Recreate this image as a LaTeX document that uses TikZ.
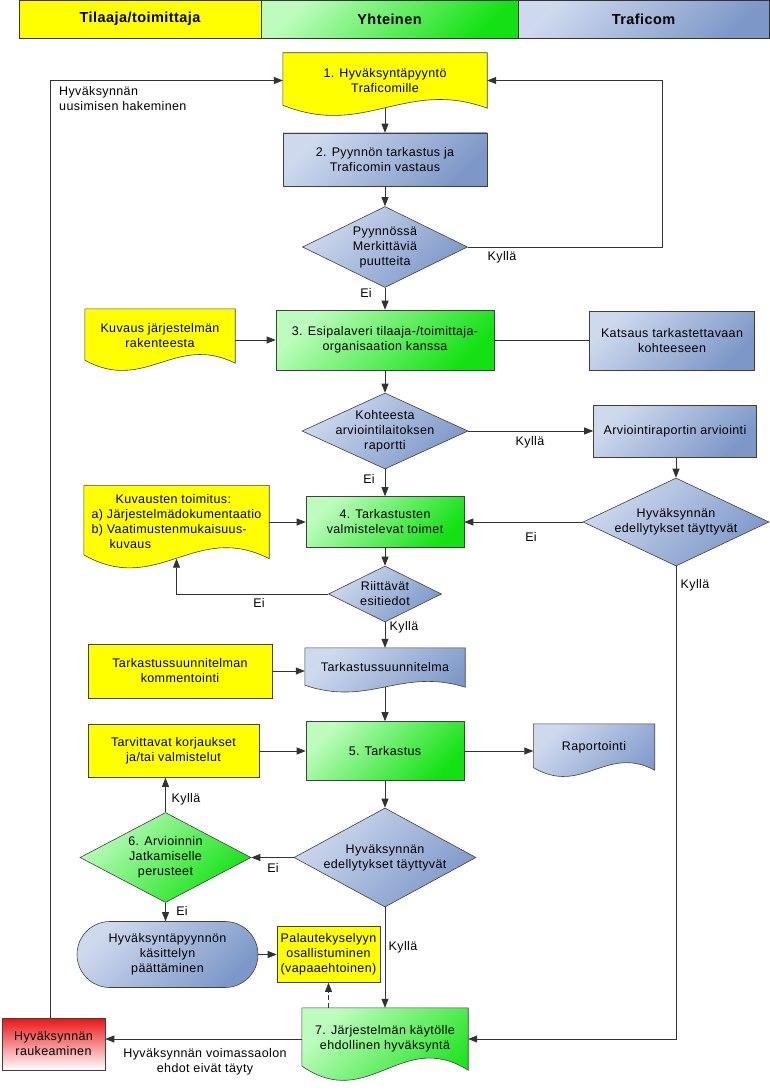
\documentclass[tikz,border=0pt]{standalone}
\usepackage{fontspec}
\setmainfont{Liberation Sans}[LetterSpace=3]
\usepackage{tikz}
\usetikzlibrary{calc, positioning, arrows.meta, shapes.geometric, backgrounds}
\usepackage{xcolor}
\definecolor{yelfill}{RGB}{255, 255, 0}
\definecolor{grnL}{RGB}{190, 252, 190}
\definecolor{grnD}{RGB}{20, 225, 20}
\definecolor{bluL}{RGB}{206, 217, 238}
\definecolor{bluD}{RGB}{125, 152, 200}
\definecolor{redD}{RGB}{235, 20, 20}
\definecolor{edgegray}{RGB}{50, 50, 50}
\newcommand{\flowfont}{\fontsize{12.5}{15}\selectfont}
\newcommand{\docpath}[3]{%
  \path[#1] (#2.north west) -- (#2.north east) -- (#2.south east)
    .. controls ($(#2.south east)!0.4!(#2.south west)+(0,-#3)$)
           and ($(#2.south east)!0.6!(#2.south west)+(0,#3)$)
    .. ($(#2.south west)+(0,-0.1*#3)$) -- cycle;}
\tikzset{
  box/.style={rectangle, draw=black!75, line width=0.6pt, align=center, inner sep=2pt, font=\flowfont},
  doc/.style={rectangle, align=center, inner sep=2pt, font=\flowfont},
  decision/.style={diamond, draw=black!75, line width=0.6pt, inner sep=0pt},
  hdr/.style={box, draw=black!80, line width=0.8pt, minimum height=38pt, font=\fontsize{14.5}{16}\selectfont\bfseries},
  yelf/.style={fill=yelfill},
  grnf/.style={top color=grnL, bottom color=grnD, shading angle=45},
  bluf/.style={top color=bluL, bottom color=bluD, shading angle=45},
  docy/.style={draw=black!75, line width=0.6pt, fill=yelfill},
  docb/.style={draw=black!75, line width=0.6pt, bluf},
  docg/.style={draw=black!75, line width=0.6pt, grnf},
  arr/.style={draw=edgegray, line width=0.7pt, -{Triangle[length=9pt, width=7pt]}},
  plain/.style={draw=edgegray, line width=0.7pt},
  lbl/.style={font=\flowfont, inner sep=1pt},
}

\begin{document}
\begin{tikzpicture}[x=1pt, y=-1pt]
  \useasboundingbox (0,0) rectangle (770,1091);
  % lanes
  \node[hdr, yelf, minimum width=242pt] (laneA) at (140,19) {Tilaaja/toimittaja};
  \node[hdr, grnf, minimum width=257pt] (laneB) at (389.5,19) {Yhteinen};
  \node[hdr, bluf, minimum width=251pt] (laneC) at (643.5,19) {Traficom};

  % request
  \node[doc, minimum width=204pt, minimum height=55pt] (req) at (385,80.5) {1. Hyväksyntäpyyntö\\Traficomille};
  \node[box, bluf, minimum width=204pt, minimum height=53pt] (check) at (385,159.5) {2. Pyynnön tarkastus ja\\Traficomin vastaus};
  \node[decision, bluf, minimum width=165pt, minimum height=81pt,
        label={[lbl, align=center]center:{Pyynnössä\\Merkittäviä\\puutteita}}] (gaps) at (385,247) {};

  % pre-meeting
  \node[box, grnf, minimum width=218pt, minimum height=60pt] (meet) at (385,340) {3. Esipalaveri tilaaja-/toimittaja-\\organisaation kanssa};
  \node[doc, minimum width=150pt, minimum height=54pt] (struct) at (160,336) {Kuvaus järjestelmän\\rakenteesta};
  \node[box, bluf, minimum width=165pt, minimum height=59pt] (review) at (672,340.5) {Katsaus tarkastettavaan\\kohteeseen};
  \node[decision, bluf, minimum width=166pt, minimum height=76pt,
        label={[lbl, align=center]center:{Kohteesta\\arviointilaitoksen\\raportti}}] (report) at (385,431) {};
  \node[box, bluf, minimum width=163pt, minimum height=52pt] (assess) at (675,431) {Arviointiraportin arviointi};

  % preparation
  \node[box, grnf, minimum width=158pt, minimum height=51pt] (prep) at (385,522) {4. Tarkastusten\\valmistelevat toimet};
  \node[doc, minimum width=185pt, minimum height=73pt, align=left] (deliv) at (176.5,522)
    {\hspace*{24pt}Kuvausten toimitus:\\a) Järjestelmädokumentaatio\\b) Vaatimustenmukaisuus-\\\hspace*{18pt}kuvaus};
  \node[decision, bluf, minimum width=186pt, minimum height=88pt,
        label={[lbl, align=center]center:{Hyväksynnän\\edellytykset täyttyvät}}] (cond1) at (676,522) {};
  \node[decision, bluf, minimum width=113pt, minimum height=56pt,
        label={[lbl, align=center]center:{Riittävät\\esitiedot}}] (enough) at (385,594) {};

  % inspection
  \node[box, yelf, minimum width=184pt, minimum height=54pt] (comment) at (180,671) {Tarkastussuunnitelman\\kommentointi};
  \node[doc, minimum width=160pt, minimum height=39pt] (plan) at (385,667.5) {Tarkastussuunnitelma};
  \node[box, grnf, minimum width=158pt, minimum height=59pt] (insp) at (385,751) {5. Tarkastus};
  \node[box, yelf, minimum width=171pt, minimum height=53pt] (fix) at (173.5,751) {Tarvittavat korjaukset\\ja/tai valmistelut};
  \node[doc, minimum width=121pt, minimum height=46pt] (rep) at (594,747) {Raportointi};
  \node[decision, bluf, minimum width=182pt, minimum height=99pt,
        label={[lbl, align=center]center:{Hyväksynnän\\edellytykset täyttyvät}}] (cond2) at (385,857.5) {};
  \node[decision, grnf, minimum width=171pt, minimum height=90pt,
        label={[lbl, align=center]center:{6. Arvioinnin\\Jatkamiselle\\perusteet}}] (cont) at (165.5,857.5) {};

  % closing
  \node[box, bluf, rounded corners=33pt, minimum width=181pt, minimum height=66pt] (close) at (167.5,954.5) {Hyväksyntäpyynnön\\käsittelyn\\päättäminen};
  \node[box, yelf, inner sep=1pt, minimum width=103pt, minimum height=56pt] (fb) at (328.5,954.5) {Palautekyselyyn\\osallistuminen\\(vapaaehtoinen)};
  \node[doc, minimum width=166pt, minimum height=62pt] (final) at (385,1039) {7. Järjestelmän käytölle\\ehdollinen hyväksyntä};
  \node[box, top color=redD, bottom color=white, minimum width=103pt, minimum height=52pt] (lapse) at (53.5,1044) {Hyväksynnän\\raukeaminen};

  % document shapes
  \begin{scope}[on background layer]
    \docpath{docy}{req}{30}
    \docpath{docy}{struct}{30}
    \docpath{docy}{deliv}{38}
    \docpath{docb}{plan}{20}
    \docpath{docb}{rep}{26}
    \docpath{docg}{final}{42}
  \end{scope}

  % connectors
  \coordinate (loopR) at (662,247);
  \draw[arr] (req) -- (check);
  \draw[arr] (check) -- (gaps);
  \draw[arr] (gaps.east) -- (loopR) |- (req.east);
  \draw[arr] ([xshift=-3pt]lapse.north) |- (req.west);
  \draw[arr] (gaps) -- (meet);
  \draw[arr] (meet.west -| struct.east) -- (meet.west);
  \draw[plain] (meet.east) -- (meet.east -| review.west);
  \draw[arr] (meet) -- (report);
  \draw[arr] (report) -- (assess);
  \draw[arr] (report) -- (prep);
  \draw[arr] (assess.south -| cond1.north) -- (cond1.north);
  \draw[arr] (cond1) -- (prep);
  \draw[arr] (deliv) -- (prep);
  \draw[arr] (prep) -- (enough);
  \draw[arr] (enough.west) -| (deliv.south);
  \draw[arr] (enough) -- (plan);
  \draw[arr] (comment.east) -- (comment.east -| plan.west);
  \draw[arr] (plan) -- (insp);
  \draw[arr] (fix) -- (insp);
  \draw[arr] (insp.east) -- (insp.east -| rep.west);
  \draw[arr] (insp) -- (cond2);
  \draw[arr] (cond2) -- (cont);
  \draw[arr] (cont.north) -- (cont.north |- fix.south);
  \draw[arr] (cont.south) -- (cont.south |- close.north);
  \draw[arr] (close) -- (fb);
  \draw[arr] (cond2) -- (final);
  \draw[arr, dash pattern=on 5pt off 3pt] (final.north -| fb.south) -- (fb.south);
  \draw[arr] (cond1.south) |- (final.east);
  \draw[arr] (final.west) -- (final.west -| lapse.east);

  % labels
  \node[lbl] (yes1) at (502,257) {Kyllä};
  \node[lbl] (no1) at (366,293) {Ei};
  \node[lbl] (yes2) at (530,442) {Kyllä};
  \node[lbl] (no2) at (369,479) {Ei};
  \node[lbl] (no3) at (531,537) {Ei};
  \node[lbl] (yes3) at (695,585) {Kyllä};
  \node[lbl] (no4) at (259,603) {Ei};
  \node[lbl] (yes4) at (404,627) {Kyllä};
  \node[lbl] (yes5) at (186,799) {Kyllä};
  \node[lbl] (no5) at (273,868) {Ei};
  \node[lbl] (no6) at (182,911) {Ei};
  \node[lbl] (yes6) at (403,947) {Kyllä};
  \node[lbl, align=left, anchor=north west] (renew) at (58,85) {Hyväksynnän\\uusimisen hakeminen};
  \node[lbl, align=center] (expire) at (205,1062) {Hyväksynnän voimassaolon\\ehdot eivät täyty};
\end{tikzpicture}
\end{document}
